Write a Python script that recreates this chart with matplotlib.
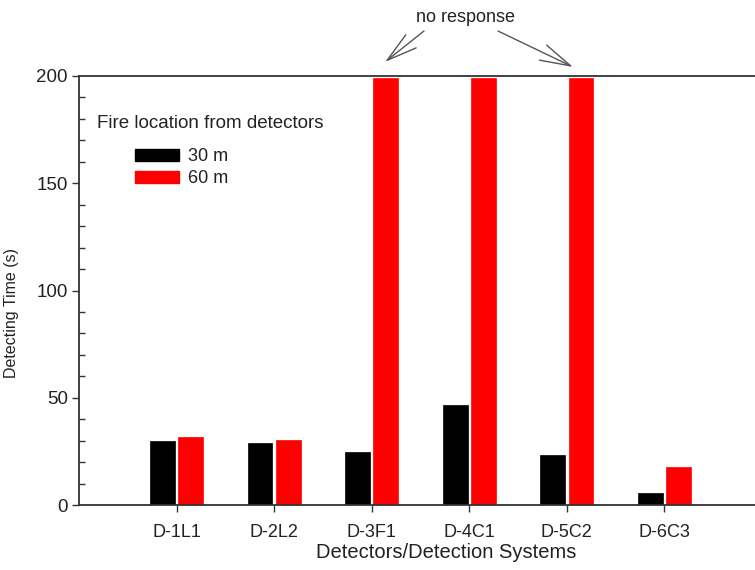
import matplotlib
matplotlib.use("Agg")
import matplotlib.pyplot as plt
import numpy as np
from matplotlib.patches import Patch
from matplotlib.ticker import MultipleLocator

plt.rcParams['font.family'] = ['Liberation Sans', 'DejaVu Sans']

categories = ["D-1L1", "D-2L2", "D-3F1", "D-4C1", "D-5C2", "D-6C3"]
values_30m = [30, 29, 24.5, 46.5, 23.5, 5.5]
values_60m = [31.5, 30.5, 199, 199, 199, 17.5]
no_response = [2, 4]  # indices of 60 m bars the arrows point to
series_labels = ["30 m", "60 m"]
legend_title = "Fire location from detectors"

W, H = 755, 570
fig = plt.figure(figsize=(W/100, H/100), dpi=100)
AX_L, AX_R, AX_T, AX_B = 79, 762, 76, 505
ax = fig.add_axes([AX_L/W, 1-AX_B/H, (AX_R-AX_L)/W, (AX_B-AX_T)/H])

def fx(px):
    return px / W
def fy(py):
    return 1 - py / H

x = np.arange(1, len(categories) + 1)
w = 0.255
off = 0.145
ax.bar(x - off, values_30m, w, color='black', edgecolor='black', linewidth=0.5)
ax.bar(x + off, values_60m, w, color='#ff0000', edgecolor='#ff0000', linewidth=0.5)

ax.set_xlim(0, 7)
ax.set_ylim(0, 200)
ax.set_xticks(x)
ax.set_xticklabels(categories, fontsize=13, color='#222222')
ax.yaxis.set_major_locator(MultipleLocator(50))
ax.yaxis.set_minor_locator(MultipleLocator(10))
ax.tick_params(axis='y', which='major', direction='out', length=5, width=1, labelsize=13.5,
               labelcolor='#222222', color='#333333', pad=3)
ax.tick_params(axis='y', which='minor', direction='in', length=4, width=1, color='#333333')
ax.tick_params(axis='x', which='major', direction='out', length=5, width=1, color='#333333', pad=9)
ax.tick_params(axis='x', which='minor', bottom=False)
for s in ax.spines.values():
    s.set_color('#333333')
    s.set_linewidth(1.3)

ax.set_xlabel("Detectors/Detection Systems", fontsize=14.5, color='#222222')
ax.xaxis.set_label_coords((446-AX_L)/(AX_R-AX_L), -(543-AX_B)/(AX_B-AX_T), transform=ax.transAxes)
ax.set_ylabel("Detecting Time (s)", fontsize=11.5, color='#222222')
ax.yaxis.set_label_coords(-(AX_L-19)/(AX_R-AX_L), (AX_B-313)/(AX_B-AX_T), transform=ax.transAxes)

# legend
fig.text(fx(97), fy(123), legend_title, fontsize=13.5, color='#222222', va='center', ha='left')
handles = [Patch(color='black'), Patch(color='#ff0000')]
leg = fig.legend(handles, series_labels, loc='upper left', bbox_to_anchor=(fx(135), fy(148)),
                 frameon=False, fontsize=13, handlelength=2.44, handleheight=0.66, handletextpad=0.5,
                 labelspacing=0.3, borderaxespad=0, borderpad=0)
for t in leg.get_texts():
    t.set_color('#222222')

# no response annotation
fig.text(fx(466), fy(17), "no response", fontsize=13, color='#222222', ha='center', va='center')
starts_px = [(424, 31), (498, 31)]
tips_px = [(385, 62), (573, 67)]
for k, i in enumerate(no_response):
    ax.annotate('', xy=fig.transFigure.transform((fx(tips_px[k][0]), fy(tips_px[k][1]))),
                xycoords='figure pixels',
                xytext=fig.transFigure.transform((fx(starts_px[k][0]), fy(starts_px[k][1]))),
                textcoords='figure pixels',
                arrowprops=dict(arrowstyle='->,head_length=1.1,head_width=0.3', color='#555555', lw=1,
                                mutation_scale=20, shrinkA=0, shrinkB=0),
                annotation_clip=False)

fig.savefig("out.png", dpi=100)
